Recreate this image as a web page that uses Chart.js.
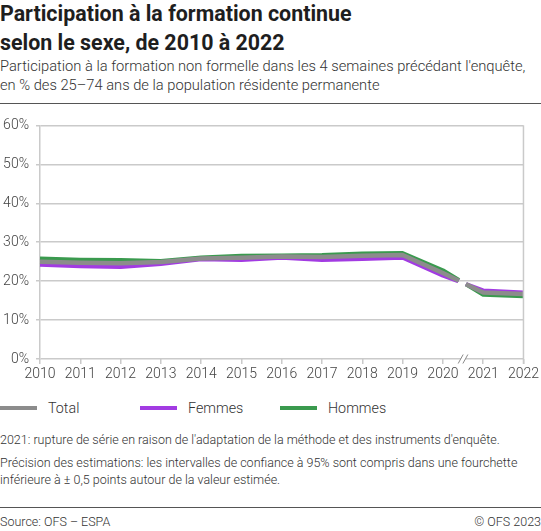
<!DOCTYPE html>
<html lang="fr">
<head>
<meta charset="UTF-8">
<title>Participation à la formation continue selon le sexe</title>
<script src="https://cdn.jsdelivr.net/npm/chart.js"></script>
<style>
  body { margin: 0; background: #fff; font-family: Roboto, "Noto Sans", sans-serif; color: #222; }
  #page { position: relative; width: 541px; height: 531px; overflow: hidden; }
  h1 { position: absolute; left: 0; top: -1px; margin: 0; font-size: 21.4px; line-height: 29px; font-weight: 700; color: #1e1e1e; }
  .sub { position: absolute; left: 0; top: 57px; font-size: 14.7px; line-height: 19px; font-weight: 300; color: #333; }
  .rule { position: absolute; left: 0; width: 541px; height: 1px; background: #555; }
  #wrap { position: absolute; left: 0; top: 110px; width: 541px; height: 280px; }
  #legend { position: absolute; left: 0; top: 398px; height: 20px; font-size: 14.3px; font-weight: 300; color: #333; }
  #legend .item { position: absolute; top: 0; white-space: nowrap; line-height: 20px; }
  #legend .swatch { position: absolute; left: 0; top: 8px; width: 37px; height: 4px; }
  #legend .lbl { position: absolute; left: 48px; top: 0; }
  .note { position: absolute; left: 0; font-size: 12.5px; line-height: 17px; font-weight: 300; color: #333; }
</style>
</head>
<body>
<div id="page">
  <h1>Participation à la formation continue<br>selon le sexe, de 2010 à 2022</h1>
  <div class="sub">Participation à la formation non formelle dans les 4 semaines précédant l'enquête,<br>en % des 25–74 ans de la population résidente permanente</div>
  <div class="rule" style="top:103px"></div>
  <div id="wrap"><canvas id="myChart"></canvas></div>
  <div id="legend"></div>
  <div class="note" style="top:431px">2021: rupture de série en raison de l'adaptation de la méthode et des instruments d'enquête.</div>
  <div class="note" style="top:454px">Précision des estimations: les intervalles de confiance à 95% sont compris dans une fourchette<br>inférieure à ± 0,5 points autour de la valeur estimée.</div>
  <div class="rule" style="top:507px"></div>
  <div class="note" style="top:513px">Source: OFS – ESPA</div>
  <div class="note" style="top:513px; left:auto; right:0">© OFS 2023</div>
</div>
<script>
    const years = ['2010', '2011', '2012', '2013', '2014', '2015', '2016', '2017', '2018', '2019', '2020', '2021', '2022'];
    const total  = [25.0, 24.7, 24.6, 24.9, 25.8, 26.0, 26.3, 26.2, 26.5, 26.7, 22.1, 17.1, 16.7];
    const femmes = [24.2, 23.8, 23.6, 24.4, 25.6, 25.4, 26.0, 25.4, 25.7, 26.0, 21.4, 17.6, 17.1];
    const hommes = [25.8, 25.5, 25.4, 25.2, 26.1, 26.5, 26.6, 26.7, 27.1, 27.2, 22.8, 16.5, 16.1];
    const seriesNames = ['Total', 'Femmes', 'Hommes'];
    const seriesColors = ['#8c8c8c', '#a23be2', '#3a9a4e'];
    const yTickLabels = ['0%', '10%', '20%', '30%', '40%', '50%', '60%'];
    // series break between 2020 and 2021 (category index)
    const breakAt = 10.5;

    const gridColor = '#cacaca';

    // cut the lines at the break and draw the "//" mark on the axis
    const breakPlugin = {
        id: 'seriesBreak',
        beforeDatasetsDraw(chart) {
            const { ctx, chartArea: a, scales } = chart;
            const cx = scales.x.getPixelForValue(breakAt);
            const cy = scales.y.getPixelForValue(20);
            const k = 0.55, half = 4.5;
            const xAt = (yy) => cx + (cy - yy) * k;
            ctx.save();
            ctx.beginPath();
            ctx.rect(a.left - 10, a.top - 10, a.width + 20, a.height + 20);
            ctx.moveTo(xAt(a.top) - half, a.top);
            ctx.lineTo(xAt(a.top) + half, a.top);
            ctx.lineTo(xAt(a.bottom) + half, a.bottom);
            ctx.lineTo(xAt(a.bottom) - half, a.bottom);
            ctx.closePath();
            ctx.clip('evenodd');
        },
        afterDatasetsDraw(chart) {
            chart.ctx.restore();
        },
        afterDraw(chart) {
            const { ctx, chartArea: a, scales } = chart;
            // right frame line
            ctx.save();
            ctx.strokeStyle = gridColor;
            ctx.lineWidth = 1.5;
            ctx.beginPath();
            ctx.moveTo(a.right, a.top);
            ctx.lineTo(a.right, a.bottom + 5);
            ctx.stroke();
            // break mark
            const cx = scales.x.getPixelForValue(breakAt);
            const yb = a.bottom;
            const gap = 4.7, dx = 2.5, dy = 4.5;
            ctx.fillStyle = '#fff';
            ctx.beginPath();
            ctx.moveTo(cx - gap / 2 - dx, yb + dy);
            ctx.lineTo(cx - gap / 2 + dx, yb - dy);
            ctx.lineTo(cx + gap / 2 + dx, yb - dy);
            ctx.lineTo(cx + gap / 2 - dx, yb + dy);
            ctx.closePath();
            ctx.fill();
            ctx.strokeStyle = '#8a8a8a';
            ctx.lineWidth = 1;
            [-gap / 2, gap / 2].forEach(o => {
                ctx.beginPath();
                ctx.moveTo(cx + o - dx, yb + dy);
                ctx.lineTo(cx + o + dx, yb - dy);
                ctx.stroke();
            });
            ctx.restore();
        }
    };

    const ctx = document.getElementById('myChart').getContext('2d');
    const myChart = new Chart(ctx, {
        type: 'line',
        data: {
            labels: years,
            datasets: [total, femmes, hommes].map((d, i) => ({
                label: seriesNames[i],
                data: d,
                borderColor: seriesColors[i],
                backgroundColor: seriesColors[i],
                borderWidth: i === 0 ? 4.5 : 4,
                borderJoinStyle: 'round',
                pointRadius: 0,
                tension: 0,
                fill: false
            }))
        },
        options: {
            responsive: true,
            maintainAspectRatio: false,
            animation: false,
            layout: { padding: { top: 13, right: 17, left: 0, bottom: 0 } },
            plugins: {
                legend: { display: false },
                tooltip: { enabled: false }
            },
            scales: {
                x: {
                    grid: { display: true, drawOnChartArea: false, color: gridColor, lineWidth: 1.5, tickLength: 5 },
                    border: { display: false },
                    ticks: {
                        color: '#444', padding: 2, maxRotation: 0, autoSkip: false,
                        font: { family: 'Roboto', size: 14, weight: 300 }
                    },
                    afterFit: (s) => { s.height = 31; }
                },
                y: {
                    min: 0, max: 60,
                    grid: { color: gridColor, lineWidth: 1.5, tickLength: 4 },
                    border: { display: true, color: gridColor, width: 1.5 },
                    ticks: {
                        stepSize: 5, color: '#444', padding: 7,
                        font: { family: 'Roboto', size: 14, weight: 300 },
                        callback: (v) => (v % 10 === 0 ? yTickLabels[v / 10] : '')
                    },
                    afterFit: (s) => { s.width = 40; }
                }
            }
        },
        plugins: [breakPlugin]
    });

    // legend built from the datasets
    const leg = document.getElementById('legend');
    seriesNames.forEach((name, i) => {
        const it = document.createElement('div');
        it.className = 'item';
        it.style.left = (i * 140) + 'px';
        it.innerHTML = '<span class="swatch" style="background:' + seriesColors[i] + '"></span><span class="lbl">' + name + '</span>';
        leg.appendChild(it);
    });
</script>
</body>
</html>
